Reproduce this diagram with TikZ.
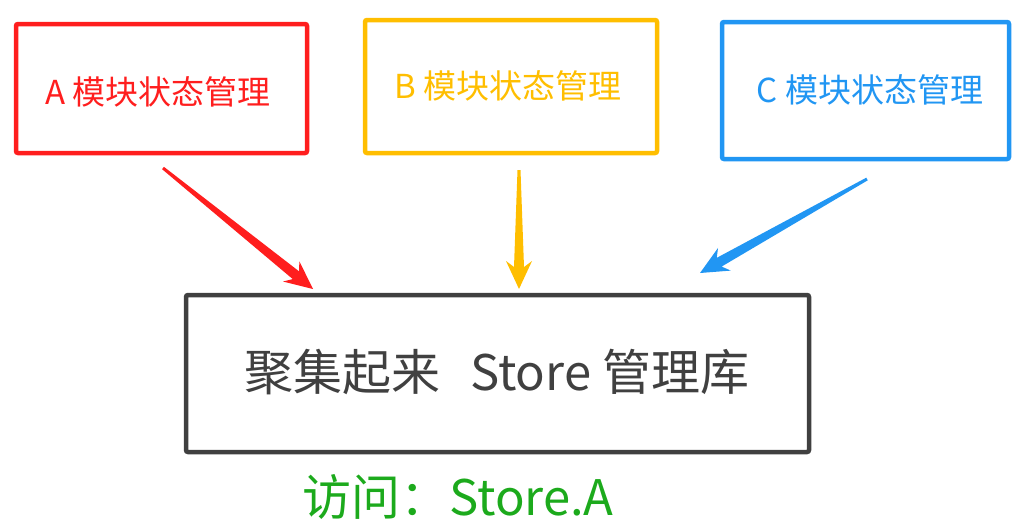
\documentclass[tikz,border=0pt]{standalone}
\usepackage{fontspec}
\setmainfont{Noto Sans CJK SC}
\usepackage{xcolor}
\usetikzlibrary{calc,positioning}

\definecolor{modred}{RGB}{255,30,30}
\definecolor{modyellow}{RGB}{255,190,0}
\definecolor{modblue}{RGB}{33,150,243}
\definecolor{storegray}{RGB}{64,64,64}
\definecolor{accessgreen}{RGB}{28,170,28}

% tapered arrow: tail, tip, colour
\newcommand{\taperarrow}[3]{%
  \coordinate (tp-base) at ($(#2)!22pt!(#1)$);
  \coordinate (tp-wing) at ($(#2)!28pt!(#1)$);
  \fill[#3] ($(#1)!1.5pt!90:(#2)$) -- ($(tp-base)!5pt!90:(#2)$)
    -- ($(tp-wing)!13pt!90:(#2)$) -- (#2)
    -- ($(tp-wing)!13pt!-90:(#2)$) -- ($(tp-base)!5pt!-90:(#2)$)
    -- ($(#1)!1.5pt!-90:(#2)$) -- cycle;}

\begin{document}
\begin{tikzpicture}[x=1pt,y=-1pt,
  modbox/.style={draw,line width=4.5pt,rounded corners=2pt,inner sep=0pt},
  modtext/.style={font=\fontsize{33}{38}\selectfont},
  bigtext/.style={font=\fontsize{49}{56}\selectfont}]
  \useasboundingbox (0,0) rectangle (1032,530);

  % module boxes
  \node[modbox,draw=modred,minimum width=291pt,minimum height=129pt] (amod) at (161.5,88.5) {};
  \node[modbox,draw=modyellow,minimum width=292pt,minimum height=133pt] (bmod) at (511,86.5) {};
  \node[modbox,draw=modblue,minimum width=287pt,minimum height=137pt] (cmod) at (865.5,90.5) {};
  \node[modtext,text=modred] (atext) at (158,92) {A 模块状态管理};
  \node[modtext,text=modyellow] (btext) at (508,86) {B 模块状态管理};
  \node[modtext,text=modblue] (ctext) at (870,90) {C 模块状态管理};

  % store box
  \node[modbox,draw=storegray,minimum width=623pt,minimum height=157pt] (store) at (497.5,373.5) {};
  \node[bigtext,text=storegray] (storetext) at (497,372) {聚集起来\hspace{0.6em}Store 管理库};
  \node[bigtext,text=accessgreen] (access) at (458,497) {访问：Store.A};

  % arrows into the store
  \coordinate (atail) at (163,168);
  \coordinate (ahead) at (313,289);
  \coordinate (btail) at (519,170);
  \coordinate (bhead) at (519,289);
  \coordinate (ctail) at (867,179);
  \coordinate (chead) at (700,273);
  \taperarrow{atail}{ahead}{modred}
  \taperarrow{btail}{bhead}{modyellow}
  \taperarrow{ctail}{chead}{modblue}
\end{tikzpicture}
\end{document}
